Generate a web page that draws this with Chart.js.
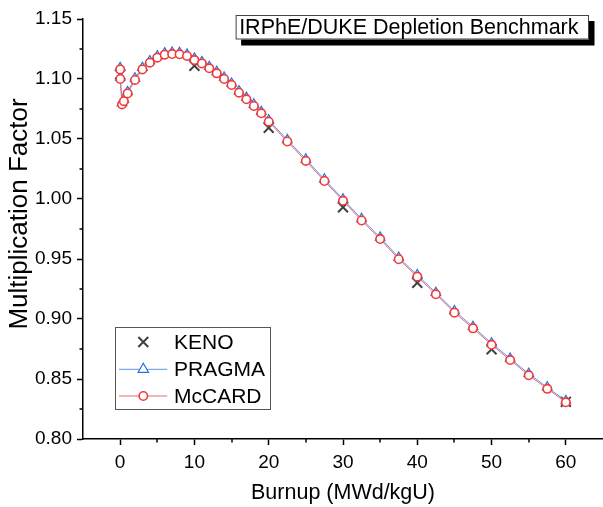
<!DOCTYPE html>
<html><head><meta charset="utf-8">
<script src="https://cdn.jsdelivr.net/npm/chart.js@4.4.0/dist/chart.umd.min.js"></script>
<style>html,body{margin:0;padding:0;background:#fff;overflow:hidden}canvas{display:block}</style>
</head><body>
<canvas id="c" width="603" height="507"></canvas>
<script>
// ---- data ----
const burnup = [0,0.02,0.25,0.5,1,2,3,4,5,6,7,8,9,10,11,12,13,14,15,16,17,18,19,20,22.5,25,27.5,30,32.5,35,37.5,40,42.5,45,47.5,50,52.5,55,57.5,60];
const mccard = [1.1080,1.1000,1.0788,1.0815,1.0880,1.0992,1.1080,1.1136,1.1178,1.1203,1.1208,1.1206,1.1192,1.1158,1.1130,1.1089,1.1047,1.1000,1.0950,1.0886,1.0831,1.0775,1.0714,1.0644,1.0479,1.0317,1.0150,0.9985,0.9821,0.9666,0.9498,0.9353,0.9206,0.9053,0.8922,0.8785,0.8658,0.8531,0.8418,0.8306];
const pragma = [1.1093,1.1013,1.0801,1.0828,1.0893,1.1006,1.1094,1.1150,1.1191,1.1216,1.1221,1.1219,1.1205,1.1172,1.1143,1.1102,1.1060,1.1013,1.0963,1.0899,1.0845,1.0789,1.0727,1.0657,1.0493,1.0331,1.0164,0.9998,0.9835,0.9680,0.9512,0.9367,0.9219,0.9067,0.8936,0.8798,0.8671,0.8544,0.8431,0.8318];
const kenoBurnup = [0,10,20,30,40,50,60];
const keno = [1.1040,1.1110,1.0593,0.9931,0.9302,0.8747,0.8310];
const xTicks = [0,10,20,30,40,50,60];
const xMinorTicks = [5,15,25,35,45,55];
const yTicks = [0.80,0.85,0.90,0.95,1.00,1.05,1.10,1.15];
const yMinorTicks = [0.825,0.875,0.925,0.975,1.025,1.075,1.125];
const seriesNames = ['KENO','PRAGMA','McCARD'];
const boxTitle = 'IRPhE/DUKE Depletion Benchmark';
const xTitle = 'Burnup (MWd/kgU)';
const yTitle = 'Multiplication Factor';

const FONT = "'Liberation Sans', Arial, sans-serif";
const RED = '#f03a3a', RED_LINE = '#f06a6a';
const BLUE = '#2a6fdb', BLUE_LINE = '#5a95ea';
const KENO_C = '#404040';

const toXY = (xs, ys) => xs.map((x, i) => ({x, y: ys[i]}));

function drawMarker(ctx, style, x, y, r, stroke, fill, lw) {
  ctx.save();
  ctx.strokeStyle = stroke; ctx.fillStyle = fill; ctx.lineWidth = lw;
  ctx.beginPath();
  if (style === 'circle') {
    ctx.arc(x, y, r, 0, Math.PI * 2);
    ctx.fill(); ctx.stroke();
  } else if (style === 'triangle') {
    ctx.moveTo(x, y - r);
    ctx.lineTo(x + r * Math.sin(Math.PI * 2 / 3), y - r * Math.cos(Math.PI * 2 / 3));
    ctx.lineTo(x - r * Math.sin(Math.PI * 2 / 3), y - r * Math.cos(Math.PI * 2 / 3));
    ctx.closePath();
    ctx.fill(); ctx.stroke();
  } else if (style === 'crossRot') {
    const d = r * Math.SQRT1_2;
    ctx.moveTo(x - d, y - d); ctx.lineTo(x + d, y + d);
    ctx.moveTo(x - d, y + d); ctx.lineTo(x + d, y - d);
    ctx.stroke();
  }
  ctx.restore();
}

const decorPlugin = {
  id: 'decor',
  afterDraw(chart) {
    const {ctx, chartArea: ca, scales: {x, y}} = chart;
    ctx.save();
    // minor ticks
    ctx.strokeStyle = '#000'; ctx.lineWidth = 1.5;
    ctx.beginPath();
    xMinorTicks.forEach(v => { const px = Math.round(x.getPixelForValue(v)); ctx.moveTo(px, ca.bottom); ctx.lineTo(px, ca.bottom + 3.5); });
    yMinorTicks.forEach(v => { const py = Math.round(y.getPixelForValue(v)); ctx.moveTo(ca.left, py); ctx.lineTo(ca.left - 3.5, py); });
    ctx.stroke();

    // y axis title
    ctx.save();
    ctx.translate(27, (ca.top + ca.bottom) / 2 - 15);
    ctx.rotate(-Math.PI / 2);
    ctx.font = '26px ' + FONT;
    ctx.fillStyle = '#000'; ctx.textAlign = 'center'; ctx.textBaseline = 'alphabetic';
    ctx.fillText(yTitle, 0, 0);
    ctx.restore();

    // title box with shadow
    ctx.font = '21.5px ' + FONT;
    const tw = ctx.measureText(boxTitle).width;
    const bw = tw + 14, bh = 24.5;
    const bx = ca.right - 14 - bw, by = ca.top - 4;
    ctx.fillStyle = '#000';
    ctx.fillRect(bx + 5.5, by + 6, bw, bh);
    ctx.fillStyle = '#fff';
    ctx.fillRect(bx, by, bw, bh);
    ctx.strokeStyle = '#444'; ctx.lineWidth = 1;
    ctx.strokeRect(bx + 0.5, by + 0.5, bw - 1, bh - 1);
    ctx.fillStyle = '#000'; ctx.textBaseline = 'middle'; ctx.textAlign = 'left';
    ctx.fillText(boxTitle, bx + 3.5, by + bh / 2 + 0.5);

    // legend
    const lx = ca.left + 32, ly = 327, lw = 156, lh = 83;
    ctx.fillStyle = '#fff';
    ctx.fillRect(lx, ly, lw, lh);
    ctx.strokeStyle = '#555'; ctx.lineWidth = 1;
    ctx.strokeRect(lx + 0.5, ly + 0.5, lw - 1, lh - 1);
    const rows = [342, 369.3, 396];
    const mx = lx + 28.3;
    chart.data.datasets.forEach(ds => {
      const i = seriesNames.indexOf(ds.label);
      const ry = rows[i];
      if (ds.showLine) {
        ctx.strokeStyle = ds.borderColor; ctx.lineWidth = ds.borderWidth;
        ctx.beginPath(); ctx.moveTo(lx + 4, ry); ctx.lineTo(lx + 52.3, ry); ctx.stroke();
      }
      const r = ds.pointStyle === 'triangle' ? 6 : ds.pointRadius;
      drawMarker(ctx, ds.pointStyle, mx, ry, r, ds.pointBorderColor, ds.pointBackgroundColor, ds.pointBorderWidth);
      ctx.fillStyle = '#000'; ctx.font = '21px ' + FONT;
      ctx.textBaseline = 'middle'; ctx.textAlign = 'left';
      ctx.fillText(ds.label, lx + 59, ry + 1);
    });
    ctx.restore();
  }
};

new Chart(document.getElementById('c'), {
  type: 'scatter',
  data: {
    datasets: [
      { label: seriesNames[0], data: toXY(kenoBurnup, keno), showLine: false, order: 3,
        pointStyle: 'crossRot', pointRadius: 7, pointHoverRadius: 7,
        pointBorderColor: KENO_C, pointBackgroundColor: KENO_C, pointBorderWidth: 2,
        borderColor: KENO_C, backgroundColor: KENO_C },
      { label: seriesNames[1], data: toXY(burnup, pragma), showLine: true, order: 2,
        borderColor: BLUE_LINE, borderWidth: 1, backgroundColor: '#fff',
        pointStyle: 'triangle', pointRadius: 5.5, pointHoverRadius: 5.5,
        pointBorderColor: BLUE, pointBackgroundColor: '#fff', pointBorderWidth: 1.2 },
      { label: seriesNames[2], data: toXY(burnup, mccard), showLine: true, order: 1,
        borderColor: RED_LINE, borderWidth: 1, backgroundColor: '#fff',
        pointStyle: 'circle', pointRadius: 4.2, pointHoverRadius: 4.2,
        pointBorderColor: RED, pointBackgroundColor: '#fff', pointBorderWidth: 1.6 }
    ]
  },
  options: {
    responsive: false,
    animation: false,
    devicePixelRatio: 1,
    layout: { autoPadding: false, padding: { top: 19, right: 0, left: 0, bottom: 0 } },
    plugins: { legend: { display: false }, tooltip: { enabled: false }, title: { display: false } },
    scales: {
      x: {
        type: 'linear', min: -5, max: 65,
        afterBuildTicks: s => { s.ticks = xTicks.map(v => ({value: v})); },
        afterFit: s => { s.height = 68; s.paddingLeft = 0; s.paddingRight = 0; },
        grid: { display: true, drawOnChartArea: false, drawTicks: true, tickLength: 6, tickColor: '#000', tickWidth: 1.5 },
        border: { display: true, color: '#000', width: 1.5 },
        ticks: { color: '#000', font: { family: FONT, size: 19 }, padding: 6, maxRotation: 0, callback: v => String(v) },
        title: { display: true, text: xTitle, color: '#000', font: { family: FONT, size: 21.5 }, padding: { top: 0, bottom: 1 } }
      },
      y: {
        type: 'linear', min: 0.80, max: 1.15,
        afterBuildTicks: s => { s.ticks = yTicks.map(v => ({value: v})); },
        afterFit: s => { s.width = 83; s.paddingTop = 0; s.paddingBottom = 0; },
        grid: { display: true, drawOnChartArea: false, drawTicks: true, tickLength: 6, tickColor: '#000', tickWidth: 1.5 },
        border: { display: true, color: '#000', width: 1.5 },
        ticks: { color: '#000', font: { family: FONT, size: 19 }, padding: 5, callback: v => Number(v).toFixed(2) },
        title: { display: false, text: yTitle }
      }
    }
  },
  plugins: [decorPlugin]
});
</script>
</body></html>
